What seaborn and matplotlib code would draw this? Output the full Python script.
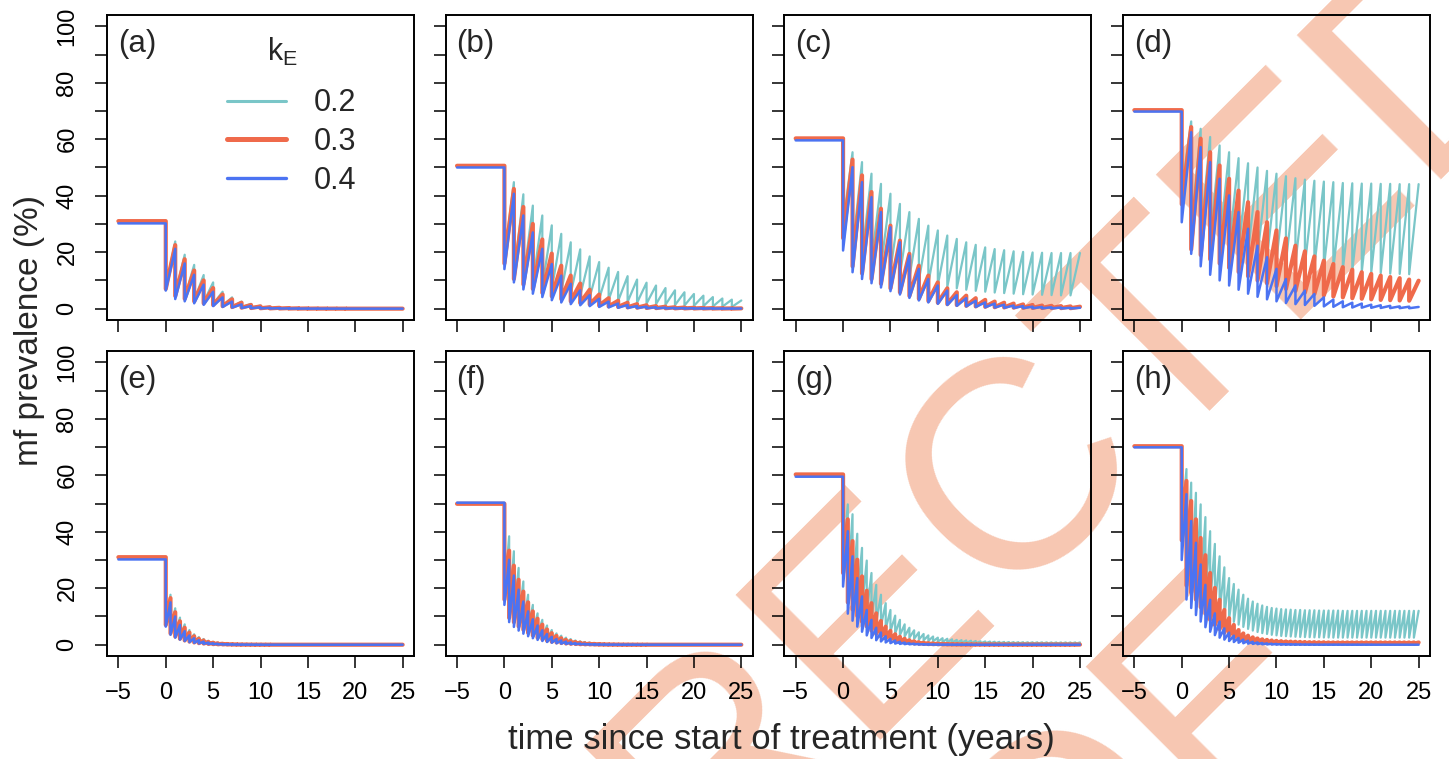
import numpy as np
import pandas as pd
import matplotlib
matplotlib.use("Agg")
import matplotlib.pyplot as plt
import seaborn as sns
from matplotlib.lines import Line2D

# ------------------------------------------------------------
# data: prevalence before treatment, then value right after each
# treatment round (trough) and just before the next one (peak)
# top row = annual rounds, bottom row = six-monthly rounds
# ------------------------------------------------------------
k_values = ["0.2", "0.3", "0.4"]
panel_labels = ["(a)", "(b)", "(c)", "(d)", "(e)", "(f)", "(g)", "(h)"]
x_ticks = [-5, 0, 5, 10, 15, 20, 25]
x_tick_labels = ["\u22125", "0", "5", "10", "15", "20", "25"]
y_ticks = [0, 10, 20, 30, 40, 50, 60, 70, 80, 90, 100]
y_tick_labels = ["0", "", "20", "", "40", "", "60", "", "80", "", "100"]

# ---- (a) ----
a_pre = [30.8, 31.0, 30.2]
a_teal_tr = [7.5, 5.0, 4.0, 3.0, 2.3, 1.6, 1.1, 0.7, 0.45, 0.3,
             0.2, 0.13, 0.09, 0.06, 0.04, 0.03, 0.02, 0.01, 0.01, 0,
             0, 0, 0, 0, 0]
a_teal_pk = [23.8, 19.1, 15.5, 11.9, 9.3, 6.0, 4.0, 2.5, 1.7, 1.1,
             0.7, 0.5, 0.3, 0.2, 0.15, 0.1, 0.1, 0.05, 0.05, 0.05,
             0, 0, 0, 0, 0]
a_orng_tr = [7.0, 4.5, 3.5, 2.6, 1.9, 1.3, 0.9, 0.55, 0.35, 0.22,
             0.14, 0.09, 0.06, 0.04, 0.02, 0.01, 0.01, 0, 0, 0,
             0, 0, 0, 0, 0]
a_orng_pk = [22.5, 17.5, 13.5, 10.0, 7.3, 5.0, 3.3, 2.1, 1.3, 0.8,
             0.5, 0.3, 0.2, 0.12, 0.08, 0.05, 0.03, 0.02, 0.01, 0,
             0, 0, 0, 0, 0]
a_blue_tr = [6.4, 3.4, 2.6, 1.9, 1.35, 0.9, 0.6, 0.38, 0.23, 0.14,
             0.08, 0.05, 0.03, 0.02, 0.01, 0, 0, 0, 0, 0,
             0, 0, 0, 0, 0]
a_blue_pk = [21.2, 16.0, 12.0, 8.5, 6.0, 4.0, 2.5, 1.5, 0.9, 0.5,
             0.3, 0.18, 0.1, 0.06, 0.04, 0.02, 0.01, 0, 0, 0,
             0, 0, 0, 0, 0]

# ---- (b) ----
b_pre = [50.3, 50.6, 50.0]
b_teal_tr = [18.0, 11.5, 10.0, 8.8, 7.8, 6.9, 6.0, 5.3, 4.6, 4.0,
             3.5, 3.1, 2.7, 2.4, 2.1, 1.8, 1.6, 1.4, 1.25, 1.1,
             1.0, 0.9, 0.8, 0.7, 0.6]
b_teal_pk = [44.8, 40.5, 36.5, 33.0, 29.5, 26.5, 23.5, 21.0, 18.5, 16.5,
             14.5, 13.0, 11.5, 10.3, 9.2, 8.2, 7.3, 6.5, 5.8, 5.2,
             4.6, 4.1, 3.6, 3.2, 2.9]
b_orng_tr = [16.0, 10.5, 8.6, 7.0, 5.6, 4.4, 3.4, 2.6, 2.0, 1.5,
             1.1, 0.8, 0.6, 0.45, 0.34, 0.25, 0.19, 0.14, 0.1, 0.08,
             0.06, 0.05, 0.04, 0.03, 0.02]
b_orng_pk = [42.4, 36.0, 30.0, 24.5, 19.5, 15.2, 11.7, 8.9, 6.7, 5.0,
             3.7, 2.8, 2.1, 1.6, 1.2, 0.9, 0.7, 0.5, 0.4, 0.3,
             0.25, 0.2, 0.15, 0.1, 0.1]
b_blue_tr = [14.0, 9.3, 6.8, 5.3, 4.1, 3.0, 2.2, 1.6, 1.2, 0.9,
             0.6, 0.45, 0.33, 0.25, 0.2, 0.15, 0.1, 0.08, 0.06, 0.05,
             0.04, 0.03, 0.03, 0.02, 0.02]
b_blue_pk = [40.7, 33.0, 27.0, 21.2, 15.8, 11.7, 8.8, 6.5, 4.8, 3.5,
             2.5, 1.8, 1.3, 0.9, 0.7, 0.5, 0.35, 0.25, 0.2, 0.15,
             0.1, 0.1, 0.05, 0.05, 0.05]

# ---- (c) ----
c_pre = [60.2, 60.3, 59.6]
c_teal_tr = [30.0, 21.0, 18.5, 16.5, 15.0, 13.5, 12.0, 11.0, 10.0, 9.0,
             8.3, 7.7, 7.2, 6.7, 6.3, 6.0, 5.7, 5.5, 5.3, 5.1,
             5.0, 4.9, 4.8, 4.7, 4.7]
c_teal_pk = [55.4, 51.9, 47.8, 44.2, 40.7, 37.1, 34.2, 31.8, 29.4, 27.7,
             25.9, 24.7, 23.5, 22.6, 21.7, 21.1, 20.7, 20.3, 20.1, 19.9,
             19.8, 19.7, 19.7, 19.7, 19.7]
c_orng_tr = [25.0, 15.0, 12.5, 10.5, 8.8, 7.2, 5.8, 4.5, 3.5, 2.7,
             2.1, 1.6, 1.3, 1.0, 0.8, 0.65, 0.5, 0.42, 0.35, 0.3,
             0.25, 0.22, 0.2, 0.18, 0.16]
c_orng_pk = [52.8, 47.2, 41.3, 35.4, 29.4, 24.1, 19.4, 15.2, 11.7, 9.3,
             7.2, 5.8, 4.6, 3.7, 3.1, 2.5, 2.1, 1.8, 1.5, 1.3,
             1.1, 1.0, 0.9, 0.8, 0.7]
c_blue_tr = [20.6, 12.9, 10.5, 9.0, 7.5, 6.2, 5.0, 3.8, 2.9, 2.2,
             1.7, 1.3, 1.0, 0.8, 0.6, 0.5, 0.4, 0.3, 0.25, 0.2,
             0.15, 0.12, 0.1, 0.08, 0.07]
c_blue_pk = [50.1, 44.8, 39.5, 34.2, 28.8, 23.5, 18.8, 14.1, 10.5, 8.2,
             6.4, 4.8, 3.7, 2.8, 2.2, 1.8, 1.4, 1.1, 0.9, 0.7,
             0.6, 0.5, 0.4, 0.3, 0.3]

# ---- (d) ----
d_pre = [70.2, 70.3, 69.8]
d_teal_tr = [42.0, 28.0, 26.0, 24.5, 23.0, 22.0, 21.0, 20.0, 19.0, 18.3,
             17.5, 16.8, 16.2, 15.6, 15.0, 14.5, 14.0, 13.6, 13.3, 13.0,
             12.8, 12.6, 12.4, 12.3, 12.2]
d_teal_pk = [66.3, 63.7, 60.8, 57.8, 55.4, 53.3, 51.5, 50.0, 48.8, 47.8,
             46.9, 46.2, 45.7, 45.3, 45.0, 44.8, 44.5, 44.4, 44.3, 44.3,
             44.2, 44.2, 44.1, 44.1, 44.1]
d_orng_tr = [37.0, 21.0, 19.0, 17.5, 16.0, 14.5, 13.0, 11.5, 10.0, 9.0,
             8.0, 7.0, 6.3, 5.7, 5.2, 4.7, 4.3, 4.0, 3.7, 3.5,
             3.3, 3.1, 3.0, 2.9, 2.8]
d_orng_pk = [64.3, 60.2, 55.4, 50.7, 46.0, 41.8, 37.7, 34.2, 30.6, 27.7,
             24.9, 22.3, 20.3, 18.5, 17.0, 15.8, 14.7, 13.8, 12.9, 12.3,
             11.7, 11.2, 10.8, 10.3, 9.9]
d_blue_tr = [30.6, 19.4, 15.0, 12.0, 10.0, 8.2, 6.7, 5.3, 4.2, 3.3,
             2.6, 2.0, 1.6, 1.3, 1.0, 0.8, 0.65, 0.5, 0.4, 0.35,
             0.3, 0.25, 0.2, 0.18, 0.15]
d_blue_pk = [62.5, 57.2, 51.9, 46.0, 40.1, 34.2, 28.3, 22.3, 18.2, 14.1,
             10.5, 8.2, 6.4, 5.2, 4.0, 3.2, 2.6, 2.1, 1.8, 1.4,
             1.2, 1.0, 0.8, 0.7, 0.6]

# ---- (e) ----
e_pre = [30.8, 31.0, 30.2]
e_teal_tr = [7.5, 4.5, 3.3, 2.5, 1.8, 1.3, 1.0, 0.7, 0.5, 0.36,
             0.26, 0.19, 0.14, 0.1, 0.07, 0.05, 0.04, 0.03, 0.02, 0.01,
             0.01, 0, 0, 0, 0, 0, 0, 0, 0, 0,
             0, 0, 0, 0, 0, 0, 0, 0, 0, 0,
             0, 0, 0, 0, 0, 0, 0, 0, 0, 0]
e_teal_pk = [17.7, 12.9, 9.6, 7.2, 5.2, 3.7, 2.7, 2.0, 1.4, 1.0,
             0.7, 0.5, 0.35, 0.25, 0.18, 0.13, 0.1, 0.07, 0.05, 0.04,
             0.03, 0.02, 0.02, 0.01, 0.01, 0, 0, 0, 0, 0,
             0, 0, 0, 0, 0, 0, 0, 0, 0, 0,
             0, 0, 0, 0, 0, 0, 0, 0, 0, 0]
e_orng_tr = [7.0, 4.0, 2.9, 2.1, 1.5, 1.1, 0.8, 0.55, 0.4, 0.28,
             0.2, 0.14, 0.1, 0.07, 0.05, 0.03, 0.02, 0.02, 0.01, 0.01,
             0, 0, 0, 0, 0, 0, 0, 0, 0, 0,
             0, 0, 0, 0, 0, 0, 0, 0, 0, 0,
             0, 0, 0, 0, 0, 0, 0, 0, 0, 0]
e_orng_pk = [16.5, 11.5, 8.3, 6.0, 4.3, 3.0, 2.1, 1.5, 1.0, 0.7,
             0.5, 0.35, 0.25, 0.17, 0.12, 0.08, 0.06, 0.04, 0.03, 0.02,
             0.01, 0.01, 0, 0, 0, 0, 0, 0, 0, 0,
             0, 0, 0, 0, 0, 0, 0, 0, 0, 0,
             0, 0, 0, 0, 0, 0, 0, 0, 0, 0]
e_blue_tr = [6.4, 3.5, 2.5, 1.8, 1.3, 0.9, 0.65, 0.45, 0.32, 0.22,
             0.16, 0.11, 0.08, 0.05, 0.04, 0.03, 0.02, 0.01, 0.01, 0,
             0, 0, 0, 0, 0, 0, 0, 0, 0, 0,
             0, 0, 0, 0, 0, 0, 0, 0, 0, 0,
             0, 0, 0, 0, 0, 0, 0, 0, 0, 0]
e_blue_pk = [15.0, 10.0, 7.0, 4.8, 3.3, 2.3, 1.6, 1.1, 0.75, 0.5,
             0.35, 0.25, 0.17, 0.12, 0.08, 0.05, 0.04, 0.03, 0.02, 0.01,
             0, 0, 0, 0, 0, 0, 0, 0, 0, 0,
             0, 0, 0, 0, 0, 0, 0, 0, 0, 0,
             0, 0, 0, 0, 0, 0, 0, 0, 0, 0]

# ---- (f) ----
f_pre = [50.2, 49.9, 50.3]
f_teal_tr = [18.0, 11.5, 10.0, 8.3, 6.8, 5.4, 4.3, 3.3, 2.6, 2.0,
             1.5, 1.15, 0.9, 0.7, 0.53, 0.4, 0.31, 0.24, 0.19, 0.15,
             0.11, 0.09, 0.07, 0.05, 0.04, 0.03, 0.02, 0.02, 0.01, 0.01,
             0, 0, 0, 0, 0, 0, 0, 0, 0, 0,
             0, 0, 0, 0, 0, 0, 0, 0, 0, 0]
f_teal_pk = [38.4, 33.1, 27.2, 22.4, 17.7, 14.1, 11.1, 8.8, 6.8, 5.2,
             4.0, 3.2, 2.5, 2.0, 1.5, 1.2, 0.95, 0.75, 0.6, 0.45,
             0.35, 0.28, 0.22, 0.17, 0.13, 0.1, 0.08, 0.06, 0.05, 0.04,
             0.03, 0.02, 0.02, 0.01, 0.01, 0, 0, 0, 0, 0,
             0, 0, 0, 0, 0, 0, 0, 0, 0, 0]
f_orng_tr = [16.0, 9.5, 8.0, 6.5, 5.3, 4.2, 3.3, 2.5, 1.9, 1.4,
             1.05, 0.8, 0.6, 0.43, 0.32, 0.24, 0.17, 0.13, 0.1, 0.07,
             0.05, 0.04, 0.03, 0.02, 0.01, 0.01, 0, 0, 0, 0,
             0, 0, 0, 0, 0, 0, 0, 0, 0, 0,
             0, 0, 0, 0, 0, 0, 0, 0, 0, 0]
f_orng_pk = [33.3, 28.0, 23.0, 18.8, 15.0, 11.8, 9.2, 7.1, 5.4, 4.1,
             3.1, 2.3, 1.7, 1.3, 0.95, 0.7, 0.5, 0.38, 0.28, 0.2,
             0.15, 0.11, 0.08, 0.06, 0.04, 0.03, 0.02, 0.02, 0.01, 0.01,
             0, 0, 0, 0, 0, 0, 0, 0, 0, 0,
             0, 0, 0, 0, 0, 0, 0, 0, 0, 0]
f_blue_tr = [14.1, 8.0, 6.3, 5.0, 3.9, 3.0, 2.3, 1.7, 1.3, 0.95,
             0.7, 0.5, 0.37, 0.27, 0.2, 0.14, 0.1, 0.07, 0.05, 0.04,
             0.03, 0.02, 0.01, 0.01, 0, 0, 0, 0, 0, 0,
             0, 0, 0, 0, 0, 0, 0, 0, 0, 0,
             0, 0, 0, 0, 0, 0, 0, 0, 0, 0]
f_blue_pk = [30.1, 24.5, 19.5, 15.3, 11.8, 9.0, 6.8, 5.1, 3.8, 2.8,
             2.0, 1.5, 1.1, 0.8, 0.55, 0.4, 0.3, 0.2, 0.15, 0.1,
             0.07, 0.05, 0.04, 0.03, 0.02, 0.01, 0.01, 0, 0, 0,
             0, 0, 0, 0, 0, 0, 0, 0, 0, 0,
             0, 0, 0, 0, 0, 0, 0, 0, 0, 0]

# ---- (g) ----
g_pre = [60.1, 60.3, 59.5]
g_teal_tr = [30.0, 20.0, 18.0, 15.8, 13.5, 11.5, 9.6, 8.0, 6.7, 5.6,
             4.7, 4.0, 3.4, 2.9, 2.5, 2.1, 1.8, 1.55, 1.35, 1.2,
             1.05, 0.95, 0.85, 0.77, 0.7, 0.65, 0.6, 0.56, 0.52, 0.49,
             0.46, 0.44, 0.42, 0.4, 0.38, 0.37, 0.36, 0.35, 0.34, 0.33,
             0.32, 0.32, 0.31, 0.31, 0.3, 0.3, 0.3, 0.3, 0.3, 0.3]
g_teal_pk = [49.7, 46.2, 39.3, 34.3, 29.8, 25.4, 21.2, 17.7, 14.7, 12.3,
             10.3, 8.8, 7.2, 6.0, 5.1, 4.4, 3.8, 3.3, 2.9, 2.5,
             2.3, 2.1, 1.9, 1.7, 1.6, 1.5, 1.4, 1.3, 1.2, 1.15,
             1.1, 1.05, 1.0, 0.97, 0.94, 0.92, 0.9, 0.88, 0.86, 0.85,
             0.84, 0.83, 0.82, 0.81, 0.8, 0.8, 0.8, 0.8, 0.8, 0.8]
g_orng_tr = [25.4, 15.0, 12.5, 10.2, 8.2, 6.5, 5.0, 3.8, 2.9, 2.2,
             1.7, 1.3, 1.0, 0.75, 0.57, 0.44, 0.34, 0.27, 0.21, 0.17,
             0.14, 0.12, 0.1, 0.08, 0.07, 0.06, 0.05, 0.05, 0.04, 0.04,
             0.03, 0.03, 0.03, 0.03, 0.03, 0.02, 0.02, 0.02, 0.02, 0.02,
             0.02, 0.02, 0.02, 0.02, 0.02, 0.02, 0.02, 0.02, 0.02, 0.02]
g_orng_pk = [44.4, 36.7, 30.1, 24.2, 19.1, 14.7, 11.1, 8.4, 6.4, 4.9,
             3.7, 2.8, 2.1, 1.6, 1.2, 0.9, 0.7, 0.55, 0.45, 0.37,
             0.3, 0.25, 0.21, 0.18, 0.16, 0.14, 0.12, 0.11, 0.1, 0.09,
             0.08, 0.08, 0.07, 0.07, 0.06, 0.06, 0.05, 0.05, 0.05, 0.05,
             0.05, 0.04, 0.04, 0.04, 0.04, 0.04, 0.04, 0.04, 0.04, 0.04]
g_blue_tr = [20.6, 11.0, 8.5, 6.4, 4.6, 3.3, 2.4, 1.6, 1.15, 0.8,
             0.56, 0.4, 0.28, 0.2, 0.14, 0.1, 0.07, 0.05, 0.04, 0.03,
             0.02, 0.01, 0.01, 0, 0, 0, 0, 0, 0, 0,
             0, 0, 0, 0, 0, 0, 0, 0, 0, 0,
             0, 0, 0, 0, 0, 0, 0, 0, 0, 0]
g_blue_pk = [40.2, 31.3, 23.6, 17.1, 12.3, 8.8, 6.0, 4.3, 3.0, 2.1,
             1.5, 1.05, 0.75, 0.53, 0.38, 0.27, 0.19, 0.14, 0.1, 0.07,
             0.05, 0.04, 0.03, 0.02, 0.02, 0.01, 0.01, 0, 0, 0,
             0, 0, 0, 0, 0, 0, 0, 0, 0, 0,
             0, 0, 0, 0, 0, 0, 0, 0, 0, 0]

# ---- (h) ----
h_pre = [70.2, 70.3, 69.9]
h_teal_tr = [42.0, 24.0, 21.0, 19.5, 18.0, 16.5, 15.0, 13.5, 12.0, 10.5,
             9.2, 8.1, 7.1, 6.3, 5.6, 5.0, 4.5, 4.1, 3.8, 3.5,
             3.3, 3.1, 3.0, 2.9, 2.8, 2.75, 2.7, 2.65, 2.6, 2.6,
             2.55, 2.55, 2.5, 2.5, 2.5, 2.5, 2.5, 2.5, 2.5, 2.5,
             2.5, 2.5, 2.5, 2.5, 2.5, 2.5, 2.5, 2.5, 2.5, 2.5]
h_teal_pk = [62.2, 57.4, 53.8, 49.7, 45.2, 40.2, 35.7, 31.3, 27.4, 23.6,
             21.5, 19.5, 17.7, 16.3, 15.3, 14.5, 13.9, 13.4, 13.0, 12.8,
             12.6, 12.5, 12.4, 12.3, 12.3, 12.2, 12.2, 12.2, 12.1, 12.1,
             12.1, 12.1, 12.1, 12.0, 12.0, 12.0, 12.0, 12.0, 12.0, 12.0,
             12.0, 12.0, 12.0, 12.0, 12.0, 12.0, 12.0, 12.0, 12.0, 12.0]
h_orng_tr = [37.0, 21.0, 18.5, 16.0, 13.3, 11.0, 8.8, 7.0, 5.5, 4.2,
             3.2, 2.4, 1.8, 1.4, 1.1, 0.9, 0.75, 0.62, 0.54, 0.48,
             0.43, 0.4, 0.37, 0.35, 0.33, 0.32, 0.31, 0.3, 0.3, 0.3,
             0.3, 0.3, 0.3, 0.3, 0.3, 0.3, 0.3, 0.3, 0.3, 0.3,
             0.3, 0.3, 0.3, 0.3, 0.3, 0.3, 0.3, 0.3, 0.3, 0.3]
h_orng_pk = [58.0, 50.9, 44.4, 37.8, 31.7, 25.4, 20.1, 15.9, 12.3, 9.4,
             7.0, 5.2, 4.0, 3.2, 2.6, 2.2, 1.9, 1.7, 1.5, 1.35,
             1.25, 1.15, 1.1, 1.05, 1.0, 0.95, 0.9, 0.9, 0.85, 0.85,
             0.8, 0.8, 0.8, 0.8, 0.8, 0.8, 0.8, 0.8, 0.8, 0.8,
             0.8, 0.8, 0.8, 0.8, 0.8, 0.8, 0.8, 0.8, 0.8, 0.8]
h_blue_tr = [30.0, 16.0, 13.0, 10.5, 8.2, 6.2, 4.6, 3.4, 2.5, 1.8,
             1.3, 0.95, 0.7, 0.52, 0.38, 0.28, 0.2, 0.15, 0.11, 0.08,
             0.06, 0.05, 0.04, 0.03, 0.02, 0.02, 0.01, 0.01, 0, 0,
             0, 0, 0, 0, 0, 0, 0, 0, 0, 0,
             0, 0, 0, 0, 0, 0, 0, 0, 0, 0]
h_blue_pk = [53.3, 43.8, 36.1, 28.4, 21.2, 15.9, 11.1, 8.2, 5.8, 4.3,
             3.2, 2.4, 1.8, 1.4, 1.05, 0.8, 0.6, 0.46, 0.36, 0.28,
             0.22, 0.17, 0.14, 0.11, 0.09, 0.07, 0.06, 0.05, 0.04, 0.03,
             0.03, 0.02, 0.02, 0.02, 0.01, 0.01, 0.01, 0.01, 0.01, 0.01,
             0, 0, 0, 0, 0, 0, 0, 0, 0, 0]

panels = [
    (a_pre, [(a_teal_tr, a_teal_pk), (a_orng_tr, a_orng_pk), (a_blue_tr, a_blue_pk)], 1.0),
    (b_pre, [(b_teal_tr, b_teal_pk), (b_orng_tr, b_orng_pk), (b_blue_tr, b_blue_pk)], 1.0),
    (c_pre, [(c_teal_tr, c_teal_pk), (c_orng_tr, c_orng_pk), (c_blue_tr, c_blue_pk)], 1.0),
    (d_pre, [(d_teal_tr, d_teal_pk), (d_orng_tr, d_orng_pk), (d_blue_tr, d_blue_pk)], 1.0),
    (e_pre, [(e_teal_tr, e_teal_pk), (e_orng_tr, e_orng_pk), (e_blue_tr, e_blue_pk)], 0.5),
    (f_pre, [(f_teal_tr, f_teal_pk), (f_orng_tr, f_orng_pk), (f_blue_tr, f_blue_pk)], 0.5),
    (g_pre, [(g_teal_tr, g_teal_pk), (g_orng_tr, g_orng_pk), (g_blue_tr, g_blue_pk)], 0.5),
    (h_pre, [(h_teal_tr, h_teal_pk), (h_orng_tr, h_orng_pk), (h_blue_tr, h_blue_pk)], 0.5),
]

colors = ["#7AC6C8", "#EF6A4B", "#4B73F2"]
widths = [1.6, 3.0, 1.8]


def series_frame(pre, troughs, peaks, dt):
    # flat line before treatment, then a drop at each round and regrowth
    t = [-5.0, 0.0]
    v = [pre, pre]
    for k, (lo, hi) in enumerate(zip(troughs, peaks)):
        t += [k * dt, (k + 1) * dt]
        v += [lo, hi]
    return pd.DataFrame({"t": t, "prev": v})


sns.set_theme(style="ticks")
plt.rcParams['font.family'] = ['Liberation Sans', 'DejaVu Sans']
plt.rcParams['mathtext.fontset'] = 'custom'
plt.rcParams['mathtext.rm'] = 'Liberation Sans'
plt.rcParams['mathtext.it'] = 'Liberation Sans:italic'

fig, axes = plt.subplots(2, 4, figsize=(14.49, 7.59), dpi=100)
fig.patch.set_facecolor("white")
fig.subplots_adjust(left=107 / 1449, right=1430 / 1449, top=1 - 15 / 759,
                    bottom=1 - 656 / 759, wspace=0.103, hspace=0.102)

# proof watermark (two diagonal lines) behind the panels
wm_color = '#F7C7B2'
fig.text(752 / 1449, 1 - 846 / 759, "UNCORRECTED", rotation=45,
         rotation_mode='anchor', ha='center', va='baseline', fontsize=214,
         color=wm_color, zorder=-5)
fig.text(962 / 1449, 1 - 1056 / 759, "PROOF", rotation=45,
         rotation_mode='anchor', ha='center', va='baseline', fontsize=214,
         color=wm_color, zorder=-5)

for i, ax in enumerate(axes.flat):
    pre, series, dt = panels[i]
    ax.set_facecolor("none")
    for j, (tr, pk) in enumerate(series):
        df = series_frame(pre[j], tr, pk, dt)
        sns.lineplot(data=df, x="t", y="prev", sort=False, estimator=None,
                     color=colors[j], linewidth=widths[j], ax=ax)
    ax.set_xlim(-6.2, 26.2)
    ax.set_ylim(-4, 104)
    ax.set_xticks(x_ticks)
    ax.set_yticks(y_ticks)
    if i % 4 == 0:
        ax.set_yticklabels(y_tick_labels, rotation=90, va='center')
    else:
        ax.set_yticklabels([])
    if i >= 4:
        ax.set_xticklabels(x_tick_labels)
    else:
        ax.set_xticklabels([])
    ax.set_xlabel("")
    ax.set_ylabel("")
    ax.tick_params(axis='both', direction='out', length=8.6, width=1.1,
                   colors='black', labelsize=17)
    ax.tick_params(axis='x', pad=10)
    ax.tick_params(axis='y', pad=12)
    for sp in ax.spines.values():
        sp.set_visible(True)
        sp.set_color('black')
        sp.set_linewidth(1.4)
    ax.text(0.035, 0.905, panel_labels[i], transform=ax.transAxes,
            fontsize=22.5, ha='left', va='center')

# legend in the first panel: title placed as its own text
ax0 = axes[0, 0]
handles = [Line2D([0], [0], color=colors[j], linewidth=widths[j] + 0.6) for j in range(3)]
ax0.legend(handles, k_values, frameon=False, fontsize=22, loc='upper left',
           bbox_to_anchor=(0.35, 0.80), handlelength=1.93,
           handletextpad=0.92, labelspacing=0.29, borderaxespad=0)
ax0.text(0.573, 0.879, r"k$_\mathrm{E}$", transform=ax0.transAxes,
         fontsize=22, ha='center', va='center')

fig.text(781 / 1449, 1 - 740 / 759, "time since start of treatment (years)",
         ha='center', va='center', fontsize=25)
fig.text(30 / 1449, 1 - 331 / 759, "mf prevalence (%)", rotation=90,
         ha='center', va='center', fontsize=24)

plt.savefig("out.png", dpi=100)
